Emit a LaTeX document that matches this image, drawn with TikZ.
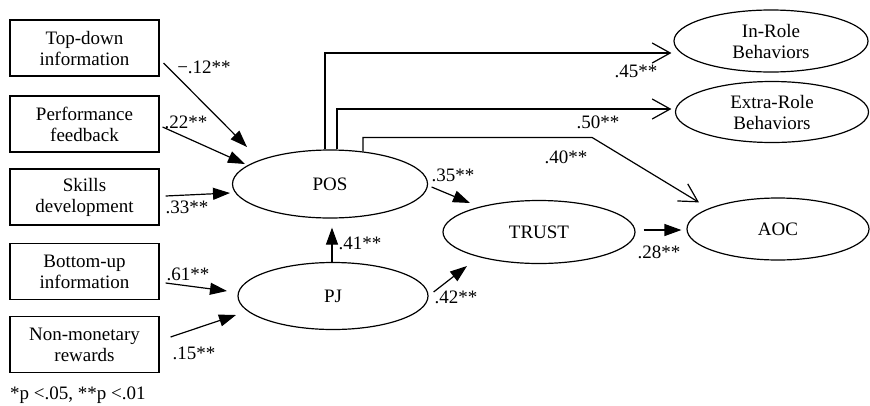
\documentclass[tikz,border=0pt]{standalone}
\usepackage{fontspec}
\setmainfont{Liberation Serif}
\usetikzlibrary{shapes.geometric,arrows.meta}
\begin{document}
\begin{tikzpicture}[x=1pt,y=-1pt,
  every node/.style={font=\fontsize{19}{21}\selectfont},
  box/.style={draw, line width=1.2pt, minimum width=149pt, minimum height=56pt, align=center, inner sep=0pt},
  oval/.style={draw, ellipse, line width=1.2pt, inner sep=0pt, align=center},
  lbl/.style={inner sep=0pt},
  fa/.style={line width=1.2pt, -{Triangle[length=17pt,width=12pt]}},
  oa/.style={line width=1.2pt, -{Straight Barb[length=18pt,width=20pt]}},
]
\useasboundingbox (0,0) rectangle (870,405);

% boxes
\node[box] (td) at (84.5,48) {Top-down\\information};
\node[box] (pf) at (84.5,124) {Performance\\feedback};
\node[box] (sd) at (84.5,197) {Skills\\development};
\node[box] (bu) at (84.5,271.5) {Bottom-up\\information};
\node[box] (nm) at (84.5,344.5) {Non-monetary\\rewards};

% ellipses
\node[oval, minimum width=195pt, minimum height=68pt] (pos) at (330,184) {POS};
\node[oval, minimum width=190pt, minimum height=67pt] (pj) at (333,296) {PJ};
\node[oval, minimum width=192pt, minimum height=63pt] (trust) at (539,232) {TRUST};
\node[oval, minimum width=194pt, minimum height=62pt] (ir) at (771,41) {In-Role\\Behaviors};
\node[oval, minimum width=193pt, minimum height=61pt] (er) at (772,112) {Extra-Role\\Behaviors};
\node[oval, minimum width=182pt, minimum height=62pt] (aoc) at (778,229) {AOC};

% filled arrows
\draw[fa] ([shift={(4,15)}]td.east) -- ([shift={(-83,-37)}]pos.center);
\draw[fa] ([shift={(3,3)}]pf.east) -- ([shift={(-85,-20)}]pos.center);
\draw[fa] ([shift={(6,-1)}]sd.east) -- ([shift={(-100,9)}]pos.center);
\draw[fa] ([shift={(6,11.5)}]bu.east) -- ([shift={(-106,-5)}]pj.center);
\draw[fa] ([shift={(11,-7.5)}]nm.east) -- ([shift={(-97,19)}]pj.center);
\draw[fa] ([xshift=-1]pj.north) -- ([shift={(2,9)}]pos.south);
\draw[fa] ([shift={(3.5,3)}]pos.east) -- ([shift={(-69,-29)}]trust.center);
\draw[fa] ([shift={(5,-4)}]pj.east) -- ([shift={(-72,34)}]trust.center);
\draw[fa] ([shift={(8,-2)}]trust.east) -- ([shift={(-5,1)}]aoc.west);

% open arrows
\draw[oa] ([xshift=-5]pos.north) |- ([shift={(-2,12)}]ir.west);
\draw[oa] ([xshift=7]pos.north) |- ([shift={(-3.5,-3)}]er.west);
\draw[oa] ([shift={(33,2)}]pos.north) -- ++(0,-14) -- ++(229,0) -- ([shift={(-79,5)}]aoc.north);

% labels
\node[lbl] (l1) at (204,67) {−.12**};
\node[lbl] (l2) at (186,122) {.22**};
\node[lbl] (l3) at (187,207) {.33**};
\node[lbl] (l4) at (188,274) {.61**};
\node[lbl] (l5) at (194,353) {.15**};
\node[lbl] (l6) at (360,243) {.41**};
\node[lbl] (l7) at (453,175) {.35**};
\node[lbl] (l8) at (456,297) {.42**};
\node[lbl] (l9) at (659,252) {.28**};
\node[lbl] (l10) at (636,71) {.45**};
\node[lbl] (l11) at (598,122) {.50**};
\node[lbl] (l12) at (566,157) {.40**};
\node[lbl, anchor=west] (fn) at (10,395) {*p <.05, **p <.01};
\end{tikzpicture}
\end{document}
